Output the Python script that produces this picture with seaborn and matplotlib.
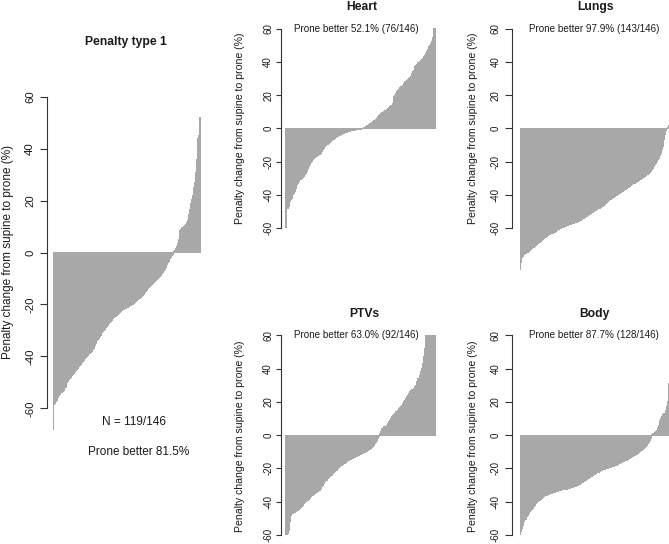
import numpy as np
import pandas as pd
import matplotlib
matplotlib.use("Agg")
import matplotlib.pyplot as plt
import seaborn as sns

# ---------------- data (sorted per-patient penalty change, %) ----------------
penalty_type1 = [
    -68,
    -58.5, -58, -57.5, -57,
    -56, -55, -54.5,
    -54, -54, -53.5, -53, -52,
    -50, -49.5, -49, -48.5,
    -48, -47.5, -47, -46.5, -46, -45.5,
    -45, -44.5, -44, -43.5, -43, -42.5, -42,
    -41.5, -41, -40.5,
    -40, -39.5, -39, -38.8, -38.5, -38, -37.5, -37, -36, -35,
    -34, -33.5, -33, -32.5, -32, -31, -30.5,
    -30, -29.5, -29, -28.5, -28, -27.5, -27, -26.5, -26, -25.5,
    -25, -24.8, -24.5, -24.2, -24, -23.5, -23, -22.8, -22.5,
    -22, -21.8, -21.6, -21.4, -21.2, -21, -20.8, -20.6, -20.4, -20.2,
    -20, -19.6, -19.2, -18.8, -18.4, -18, -17.6,
    -17.3, -17, -16.5, -16, -15.5, -15,
    -14.5, -14, -13.6, -13.2, -12.8, -12.4, -12,
    -11.6, -11.2, -10.8, -10.4, -10, -9.6, -9.2,
    -8.8, -8.2, -7.6,
    -7, -6.4, -5.8,
    -4.8, -4, -3.4,
    -2.5, -1.8, -1.2, -0.6,
    0.3, 0.8, 1.5, 2.5, 3.5, 5, 8.5, 8.8, 9.5, 9.8, 10, 10.3, 10.8, 11.5,
    12.5, 14.5, 16.5, 19, 20.5, 22, 25, 27, 31, 36, 44, 45, 52,
]

heart = [
    -60,
    -48.5, -48, -47,
    -44, -43, -42,
    -40, -39.5, -38, -36,
    -34, -33, -32,
    -31, -30.5, -30, -29.5, -29,
    -28, -27, -26,
    -24, -23, -22,
    -20.5, -20, -19, -18, -17.5,
    -17, -16.5, -16, -15.5, -15,
    -14, -13, -12,
    -11, -10.5, -10,
    -9.5, -9, -8.5, -8, -7.5,
    -7, -6.5, -6, -5.5, -5,
    -4.8, -4.5, -4.2, -4, -3.6,
    -3.3, -3, -2.8, -2.5, -2.2,
    -2, -1.8, -1.6, -1.4, -1.2,
    -1.1, -1, -0.9, -0.8, -0.7,
    -0.6, -0.5, -0.4, -0.3, -0.1,
    0.5, 0.8, 1.2,
    1.6, 2, 2.4,
    2.8, 3.2, 3.6, 4, 4.5,
    5, 5.6, 6.2,
    7, 7.6, 8.2, 9,
    9.5, 10, 10.5, 11,
    11.5, 12, 12.5,
    13, 13.5, 14, 15,
    19, 20, 21,
    22, 22.5, 23.5,
    24.5, 25, 25.5, 26, 27,
    28, 28.5, 29, 29.5, 30,
    30.5, 31.5, 33,
    34, 35, 37, 38,
    38.5, 39.5, 40,
    41, 41.5, 42, 43, 44,
    45, 46, 47.5, 49,
    50, 51, 52,
    55,
    60, 60,
]

lungs = [
    -85,
    -81,
    -78, -77, -76, -75.5,
    -75, -74.5, -74,
    -73.5, -73, -72.5, -72, -71.5,
    -71, -70.5, -70, -69.5, -69,
    -68.5, -68, -67.5, -67,
    -66.5, -66, -65.5, -65, -64.5,
    -64, -63.8, -63.6, -63.4, -63.2,
    -63, -62.5, -62, -61.5,
    -61, -60.7, -60.4, -60.1, -59.8,
    -59.5, -59.2, -58.9, -58.6, -58.3,
    -58, -57.8, -57.6, -57.4, -57.2,
    -57, -56.8, -56.6, -56.4, -56.2,
    -56, -55.6, -55.2, -54.8, -54.4,
    -54, -53.6, -53.2, -52.8, -52.4,
    -52, -51.6, -51.2, -50.8, -50.4,
    -50, -49.6, -49.2, -48.8, -48.4,
    -48, -47.6, -47.2, -46.8, -46.4,
    -46, -45.4, -44.8, -44.2, -43.6,
    -43, -42.6, -42.2, -41.8, -41.4,
    -41, -40.6, -40.2, -39.8, -39.4,
    -39, -38.6, -38.2, -37.8, -37.4,
    -37, -36.6, -36.2, -35.8, -35.4,
    -35, -34.5, -34, -33.5,
    -33, -32.6, -32.2, -31.8, -31.4,
    -31, -30.6, -30.2, -29.8, -29.4,
    -29, -28.5, -28, -27.5, -27,
    -26.5, -26, -25, -24, -23,
    -22, -21, -20,
    -19, -18, -16.5, -15,
    -13, -11,
    -7, -4,
    -1.5,
    0.8, 1.5, 16.5,
]

ptvs = [
    -60, -60,
    -59, -57,
    -52, -48, -47,
    -46.8, -46.5,
    -46.2, -46, -45.5,
    -45, -44.5, -44, -43.5, -43,
    -42, -41, -40.5,
    -40, -39.5, -39, -38.5, -38,
    -37, -36.5, -36, -35.5, -35,
    -34.5, -34, -33.5, -33, -32,
    -31, -30, -29,
    -28, -27.5, -27, -26,
    -25.5, -25, -24.5, -24,
    -23, -22.5, -22, -21.5, -21,
    -20, -19.5, -19, -18.5, -18,
    -17.5, -17, -16.8, -16.5, -16,
    -15.5, -15, -14.7, -14.4, -14,
    -13.6, -13.3, -13, -12.7, -12.4,
    -12, -11.7, -11.4, -11.1, -10.8,
    -10.5, -10.2, -10, -9.6, -9.2,
    -8.8, -8.4, -8, -7.5, -7,
    -6, -5, -4.5,
    -3, -2, -1,
    1, 2.5, 4,
    5, 5.2, 5.5,
    6, 7, 8,
    9, 10, 11, 12, 12.5,
    13, 14, 14.5, 15,
    16, 16.5, 17, 18,
    19, 20, 21,
    22, 23, 24, 25,
    26, 27, 27.3, 27.6, 28,
    29, 30, 32,
    34, 36, 38,
    40, 43, 47, 52,
    60, 60, 60, 60, 60, 60, 60, 60, 60, 60,
]

body = [
    -60,
    -58, -56,
    -54,
    -52, -50.5,
    -49, -48, -47,
    -46, -45, -44.5, -44,
    -43, -42, -41,
    -40.5, -40, -39.5,
    -39, -38.5, -38, -37.5, -37,
    -36.5, -36.2, -36, -35.8, -35.5,
    -35.2, -35, -34.8, -34.6, -34.4,
    -34.2, -34, -33.8, -33.6, -33.4,
    -33.2, -33, -32.9, -32.8, -32.7, -32.6,
    -32.5, -32.3, -32.1, -31.9, -31.7, -31.5, -31.3,
    -31.1, -30.9, -30.7, -30.4, -30.1,
    -29.8, -29.4, -29, -28.6, -28.2,
    -27.8, -27.4, -27, -26.6, -26.2,
    -25.8, -25.4, -25, -24.6, -24.2,
    -23.8, -23.4, -23, -22.6, -22.2,
    -21.8, -21.4, -21, -20.8, -20.6,
    -20.4, -20.2, -20, -19.8, -19.6,
    -19.4, -19.2, -19, -18.8, -18.6,
    -18.4, -18.2, -18, -17.6, -17.2,
    -16.8, -16.5, -16.2, -16, -15.8,
    -15.5, -15.2, -15, -14.6, -14.2,
    -13.8, -13.4, -13, -12.6,
    -12.2, -11.8, -11.4, -11, -10.5,
    -10, -9.5, -9, -8.5,
    -8, -7.4, -6.8,
    -6, -5.2, -4.4,
    -3.2, -2,
    0.5, 1, 1.3, 1.6, 2,
    3, 4.5, 6,
    9, 10, 11,
    12.5, 13,
    15, 17,
    20,
    31, 32,
]

panel_titles = ["Penalty type 1", "Heart", "Lungs", "PTVs", "Body"]
panel_notes = ["Prone better 81.5%",
               "Prone better 52.1% (76/146)",
               "Prone better 97.9% (143/146)",
               "Prone better 63.0% (92/146)",
               "Prone better 87.7% (128/146)"]
n_note = "N = 119/146"
y_label = "Penalty change from supine to prone (%)"
tick_values = [-60, -40, -20, 0, 20, 40, 60]
tick_labels = ["-60", "-40", "-20", "0", "20", "40", "60"]

# ---------------- styling ----------------
sns.set_theme(style="white")
plt.rcParams['font.family'] = ['Liberation Sans', 'DejaVu Sans']

BAR = "#A8A8A8"
INK = "#1a1a1a"
AXC = "#333333"
W, H = 669, 544
fig = plt.figure(figsize=(W / 100, H / 100), dpi=100)
fig.patch.set_facecolor("white")


def add_ax(L, T, R, B):
    return fig.add_axes([L / W, 1 - B / H, (R - L) / W, (B - T) / H])


def draw(ax, vals, xlim, tsize, tlen, pad):
    df = pd.DataFrame({"idx": np.arange(len(vals)), "val": vals})
    sns.barplot(data=df, x="idx", y="val", color=BAR, saturation=1,
                width=0.833, linewidth=0, errorbar=None, ax=ax)
    for p in ax.patches:
        p.set_clip_on(False)
        p.set_antialiased(False)
        p.set_snap(False)
        p.set_edgecolor("none")
    ax.set_xlim(*xlim)
    ax.set_ylim(-60, 60)
    ax.set_facecolor("none")
    ax.xaxis.set_visible(False)
    ax.set_ylabel("")
    for s in ["top", "right", "bottom"]:
        ax.spines[s].set_visible(False)
    ax.spines["left"].set_bounds(-60, 60)
    ax.spines["left"].set_color(AXC)
    ax.spines["left"].set_linewidth(0.8)
    ax.set_yticks(tick_values)
    ax.set_yticklabels(tick_labels, rotation=90, va="center", fontsize=tsize, color=INK)
    ax.tick_params(axis="y", left=True, length=tlen, width=0.8, color=AXC, pad=pad)


def px(x, y):
    return x / W, 1 - y / H


# Left big panel
ax0 = add_ax(47, 96.7, 207, 408.3)
draw(ax0, penalty_type1, (-6.34, 151.5), 8.2, 5, 3.6)
fig.text(*px(126, 45), panel_titles[0], ha="center", va="baseline",
         fontsize=8.7, fontweight="bold", color=INK)
fig.text(*px(8, 252), y_label, rotation=90, ha="center", va="center",
         fontsize=8.5, color=INK)
fig.text(*px(134, 425), n_note, ha="center", va="baseline", fontsize=8.5, color=INK)
fig.text(*px(138.3, 455), panel_notes[0], ha="center", va="baseline", fontsize=8.5, color=INK)

# Small panels
small = [
    (heart, 281.3, 28.7, 228.0, (-4.31, 150.0), 440.0, 361.7, 10.0, 356.7, 28.9, 240, 128, 3.3, 2.5),
    (lungs, 511.7, 28.7, 228.0, (-8.49, 150.0), 674.7, 595.0, 10.0, 593.7, 28.9, 473.3, 128, 5, 2.8),
    (ptvs, 281.3, 335.3, 535.0, (-4.31, 150.0), 440.0, 364.0, 316.7, 356.7, 335.5, 240, 436, 3.3, 2.5),
    (body, 511.7, 335.3, 535.0, (-8.49, 150.0), 674.7, 594.0, 316.7, 593.7, 335.5, 473.3, 436, 5, 2.8),
]
for k, (vals, L, T, B, xl, R, tx, ty, nx, ny, lx, ly, tlen, pad) in enumerate(small):
    ax = add_ax(L, T, R, B)
    draw(ax, vals, xl, 7.0, tlen, pad)
    fig.text(*px(tx, ty), panel_titles[k + 1], ha="center", va="baseline",
             fontsize=8.7, fontweight="bold", color=INK)
    fig.text(*px(nx, ny), panel_notes[k + 1], ha="center", va="center",
             fontsize=7.1, color=INK)
    fig.text(*px(lx, ly), y_label, rotation=90, ha="center", va="center",
             fontsize=7.6, color=INK)

fig.savefig("out.png", dpi=100, facecolor="white")
